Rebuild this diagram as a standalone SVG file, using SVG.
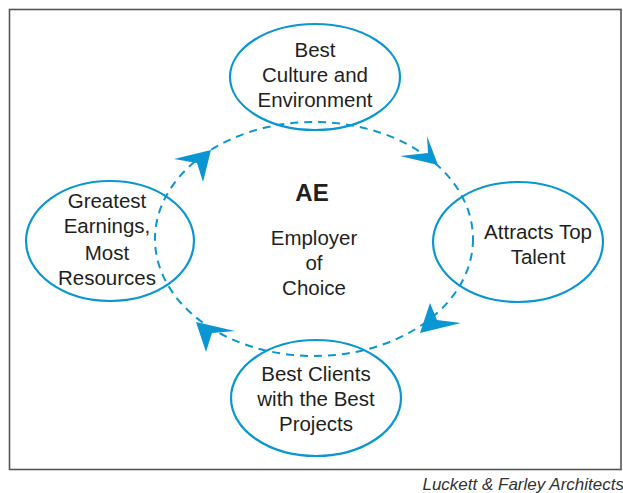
<svg xmlns="http://www.w3.org/2000/svg" width="623" height="493" viewBox="0 0 623 493">
<style>
.node{fill:none;stroke:#0a96d2;stroke-width:2.2}
.t{font-family:"Liberation Sans",Arial,sans-serif;font-size:20.5px;fill:#231f20;text-anchor:middle}
.ring{fill:none;stroke:#0a96d2;stroke-width:2;stroke-dasharray:8 6}
.ah{fill:#0a96d2}
</style>
<rect x="0" y="0" width="623" height="493" fill="#fff"/>
<rect x="9.5" y="9.5" width="611.5" height="460" fill="none" stroke="#555" stroke-width="1.6"/>
<g id="connectors">
<ellipse class="ring" cx="314" cy="239" rx="159" ry="117"/>
<polygon class="ah" points="211,150 174,159 197,163 203,182"/>
<polygon class="ah" points="438,165 427,136 428,153 400,156"/>
<polygon class="ah" points="420,333 430,303 437,320 461,323"/>
<polygon class="ah" points="196,322 235,331 212,333 206,352"/>
</g>
<g id="top">
<ellipse class="node" cx="315" cy="77" rx="85" ry="53"/>
<text class="t" x="315" y="57">Best</text>
<text class="t" x="315" y="82">Culture and</text>
<text class="t" x="315" y="107">Environment</text>
</g>
<g id="right">
<ellipse class="node" cx="518" cy="242" rx="85" ry="60"/>
<text class="t" x="538" y="239">Attracts Top</text>
<text class="t" x="538" y="264">Talent</text>
</g>
<g id="bottom">
<ellipse class="node" cx="316" cy="398" rx="85" ry="58"/>
<text class="t" x="316" y="381">Best Clients</text>
<text class="t" x="316" y="406">with the Best</text>
<text class="t" x="316" y="431">Projects</text>
</g>
<g id="left">
<ellipse class="node" cx="110" cy="241" rx="84" ry="60"/>
<text class="t" x="107" y="208">Greatest</text>
<text class="t" x="107" y="233">Earnings,</text>
<text class="t" x="107" y="260">Most</text>
<text class="t" x="107" y="285">Resources</text>
</g>
<g id="center">
<text class="t" x="312" y="201" style="font-weight:bold;font-size:24px">AE</text>
<text class="t" x="314" y="245">Employer</text>
<text class="t" x="314" y="270">of</text>
<text class="t" x="314" y="295">Choice</text>
</g>
<text x="624" y="490" style="font-family:'Liberation Sans',Arial,sans-serif;font-size:17px;font-style:italic;fill:#333;text-anchor:end">Luckett &amp; Farley Architects</text>
</svg>
